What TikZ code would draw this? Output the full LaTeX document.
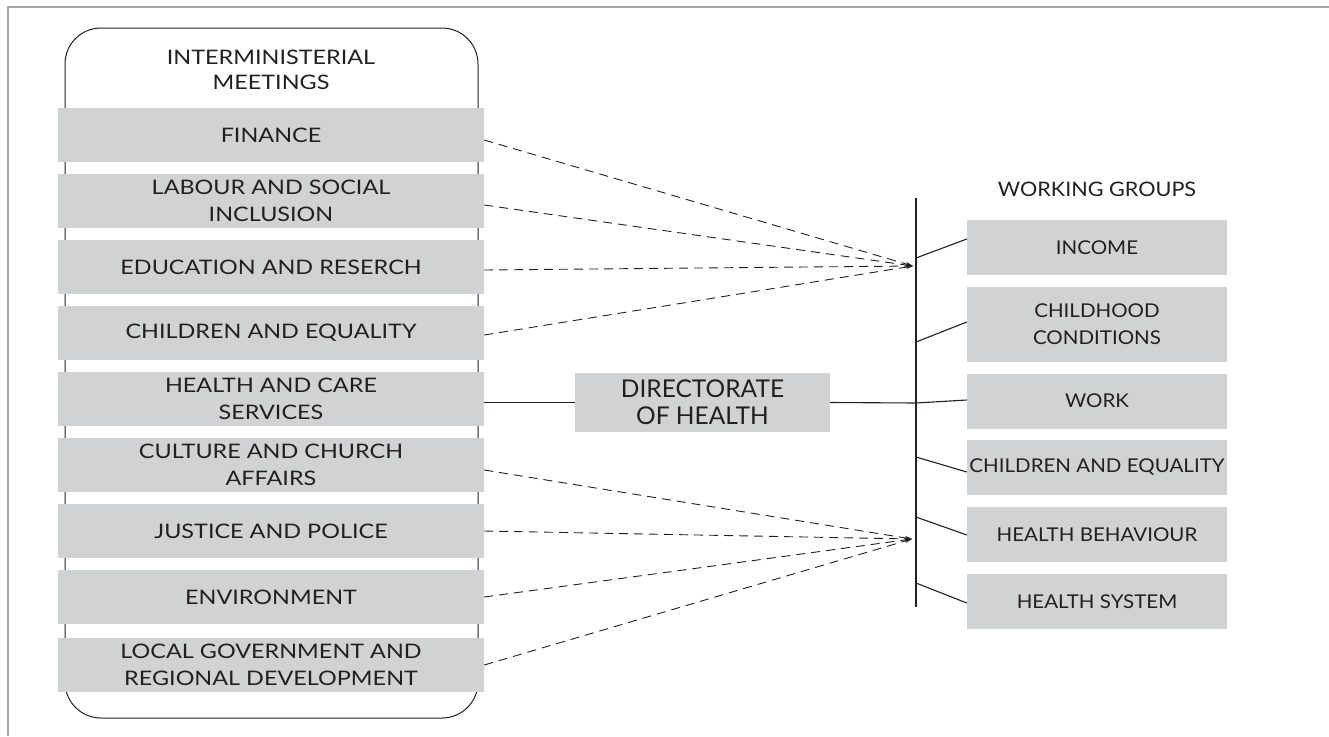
\documentclass[tikz,border=0pt]{standalone}
\usepackage{fontspec}
\setmainfont{Lato}
\newfontfamily\lfont{Lato}[FakeStretch=1.17]
\newfontfamily\rfont{Lato}[FakeStretch=1.08]
\usetikzlibrary{arrows.meta}
\definecolor{boxgray}{HTML}{D1D2D4}
\definecolor{ink}{HTML}{231F20}
\begin{document}
\begin{tikzpicture}[x=1pt,y=-1pt,
  every node/.style={text=ink},
  lbox/.style={fill=boxgray, minimum width=426pt, minimum height=54pt, inner sep=0pt, align=center, font=\lfont\fontsize{20}{27}\selectfont},
  rbox/.style={fill=boxgray, minimum width=260pt, minimum height=55pt, inner sep=0pt, align=center, font=\rfont\fontsize{19}{27}\selectfont},
  ltitle/.style={align=center, font=\lfont\fontsize{20}{25}\selectfont, inner sep=0pt},
  rtitle/.style={align=center, font=\rfont\fontsize{20}{25}\selectfont, inner sep=0pt},
  link/.style={draw=ink, line width=1.1pt},
  dlink/.style={draw=ink, line width=0.9pt, dash pattern=on 9pt off 6pt, -{Stealth[length=7pt,width=4pt]}}]
\useasboundingbox (0,0) rectangle (1329,736);
% frame
\draw[gray!70, line width=1.5pt] (8,736) -- (8,7) -- (1329,7);
% left panel
\node (panel) [draw=ink, line width=1pt, rounded corners=36pt, minimum width=413pt, minimum height=690pt, inner sep=0pt] at (271.5,373) {};
\node (lt) [ltitle] at (271,70) {INTERMINISTERIAL\\MEETINGS};
\node (m1) [lbox] at (271,135) {FINANCE};
\node (m2) [lbox] at (271,201) {LABOUR AND SOCIAL\\INCLUSION};
\node (m3) [lbox] at (271,267) {EDUCATION AND RESERCH};
\node (m4) [lbox] at (271,333) {CHILDREN AND EQUALITY};
\node (m5) [lbox] at (271,399) {HEALTH AND CARE\\SERVICES};
\node (m6) [lbox] at (271,465) {CULTURE AND CHURCH\\AFFAIRS};
\node (m7) [lbox] at (271,531) {JUSTICE AND POLICE};
\node (m8) [lbox] at (271,597) {ENVIRONMENT};
\node (m9) [lbox] at (271,665) {LOCAL GOVERNMENT AND\\REGIONAL DEVELOPMENT};
% directorate
\node (dir) [fill=boxgray, minimum width=255pt, minimum height=59pt, inner sep=0pt, align=center, font=\fontsize{24.5}{27}\selectfont] at (702.5,402.5) {DIRECTORATE\\OF HEALTH};
% right side
\node (rt) [rtitle] at (1097,189) {WORKING GROUPS};
\node (w1) [rbox] at (1097,247.5) {INCOME};
\node (w2) [rbox, minimum height=75pt] at (1097,324.5) {CHILDHOOD\\CONDITIONS};
\node (w3) [rbox] at (1097,401) {WORK};
\node (w4) [rbox] at (1097,467.5) {CHILDREN AND EQUALITY};
\node (w5) [rbox] at (1097,534.5) {HEALTH BEHAVIOUR};
\node (w6) [rbox] at (1097,601.5) {HEALTH SYSTEM};
% vertical bar
\coordinate (vtop) at (916,198);
\coordinate (vbot) at (916,607);
\draw[draw=ink, line width=1.6pt] (vtop) -- (vbot);
\coordinate (j1) at (916,258);
\coordinate (j2) at (916,342);
\coordinate (j3) at (916,403);
\coordinate (j4) at (916,457);
\coordinate (j5) at (916,517);
\coordinate (j6) at (916,583);
\draw[link] (j1) -- ([yshift=8.5pt]w1.west);
\draw[link] (j2) -- ([yshift=2.5pt]w2.west);
\draw[link] (j3) -- ([yshift=1pt]w3.west);
\draw[link] (j4) -- ([yshift=-4.5pt]w4.west);
\draw[link] (j5) -- ([yshift=-0.5pt]w5.west);
\draw[link] (j6) -- ([yshift=-1.5pt]w6.west);
% directorate links
\draw[link] ([yshift=-3.5pt]m5.east) -- (dir.west);
\draw[link] (dir.east) -- (j3);
% dashed converging links
\coordinate (a1) at (913,266);
\coordinate (a2) at (912,539);
\draw[dlink] ([yshift=-5pt]m1.east) -- (a1);
\draw[dlink] ([yshift=-4pt]m2.east) -- (a1);
\draw[dlink] ([yshift=-3pt]m3.east) -- (a1);
\draw[dlink] ([yshift=-2pt]m4.east) -- (a1);
\draw[dlink] ([yshift=-5pt]m6.east) -- (a2);
\draw[dlink] (m7.east) -- (a2);
\draw[dlink] (m8.east) -- (a2);
\draw[dlink] (m9.east) -- (a2);
\end{tikzpicture}
\end{document}
